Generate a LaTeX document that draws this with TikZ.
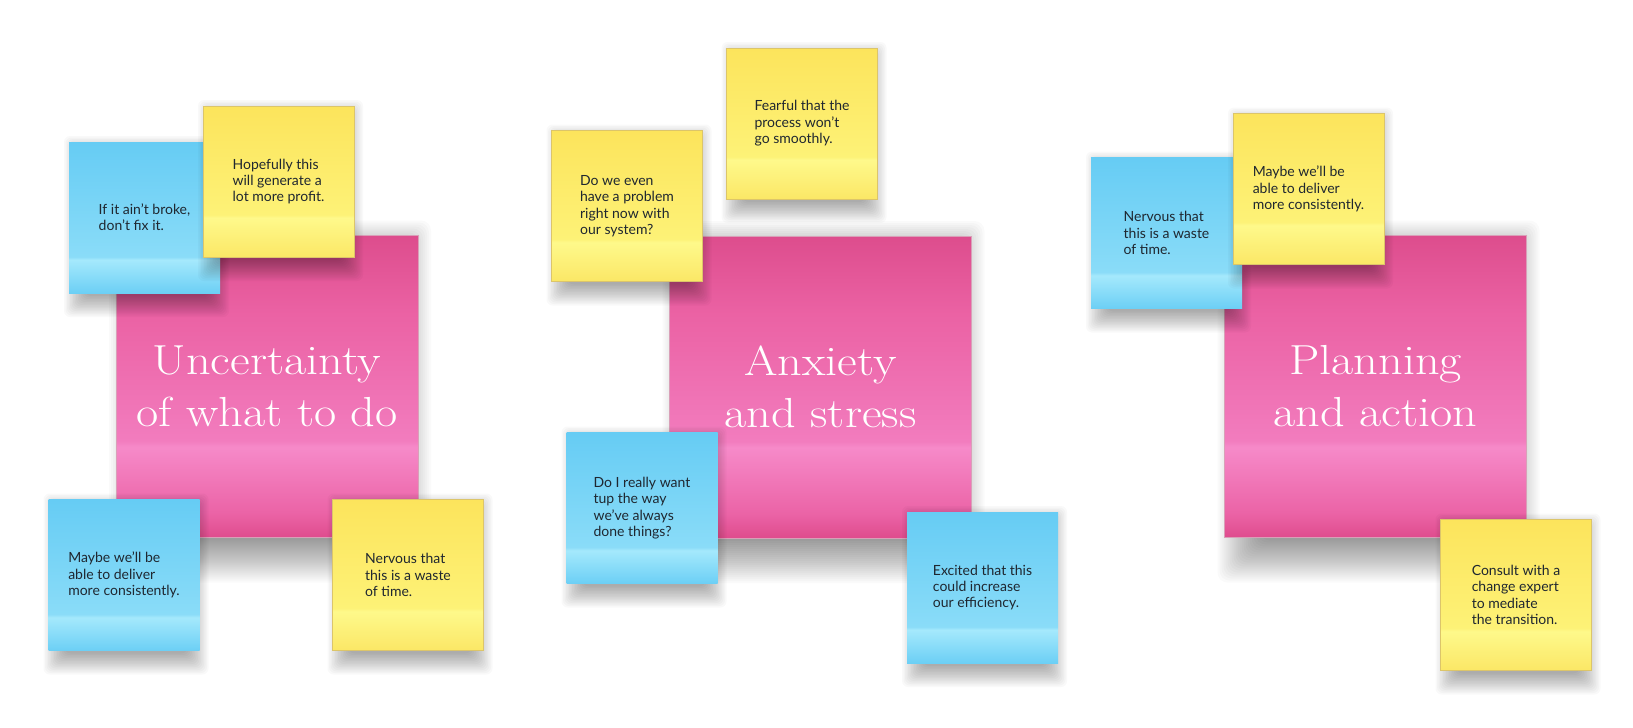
\documentclass[tikz,border=0pt]{standalone}
\usepackage{fontspec}
\newfontfamily\noteFont{Lato}
\newfontfamily\titleFont{lmroman17-regular}[Extension=.otf, FakeStretch=1.15]
\usepackage{tikz}

\definecolor{pinkEdge}{HTML}{DF4C8D}
\definecolor{pinkLow}{HTML}{EB63A6}
\definecolor{pinkLight}{HTML}{F68AC9}
\definecolor{pinkMid}{HTML}{F27CBE}
\definecolor{pinkHigh}{HTML}{EB62A4}
\definecolor{pinkTop}{HTML}{DD4D8D}
\definecolor{pinkRim}{HTML}{D9A0B8}
\definecolor{blueEdge}{HTML}{6CCFF5}
\definecolor{blueLight}{HTML}{A5E9FC}
\definecolor{blueMid}{HTML}{8ADCF8}
\definecolor{blueTop}{HTML}{66CCF4}
\definecolor{yellowEdge}{HTML}{FBE766}
\definecolor{yellowLight}{HTML}{FEF98B}
\definecolor{yellowMid}{HTML}{FDF277}
\definecolor{yellowTop}{HTML}{FCE45C}
\definecolor{yellowRim}{HTML}{DCC56A}
\definecolor{noteInk}{HTML}{1F2730}

\pgfdeclareverticalshading{pinkPaper}{100bp}{color(0bp)=(pinkEdge); color(25bp)=(pinkEdge);
  color(29bp)=(pinkLow); color(40bp)=(pinkLight); color(41bp)=(pinkMid);
  color(62bp)=(pinkHigh); color(75bp)=(pinkTop); color(100bp)=(pinkTop)}
\pgfdeclareverticalshading{bluePaper}{100bp}{color(0bp)=(blueEdge); color(25bp)=(blueEdge);
  color(36bp)=(blueLight); color(37bp)=(blueMid); color(75bp)=(blueTop); color(100bp)=(blueTop)}
\pgfdeclareverticalshading{yellowPaper}{100bp}{color(0bp)=(yellowEdge); color(25bp)=(yellowEdge);
  color(38bp)=(yellowLight); color(39bp)=(yellowMid); color(75bp)=(yellowTop); color(100bp)=(yellowTop)}

% soft shadows: stacked faint rectangles under a note centred at (#1,#2)
\newcommand{\smallShadow}[2]{%
  \foreach \r in {-6,-4.5,...,15}
    \fill[black, fill opacity=0.022, rounded corners=6pt]
      ({#1-67.5-\r+2},{#2-75.5-\r+9}) rectangle ({#1+67.5+\r+2},{#2+75.5+\r+9});}
\newcommand{\bigShadow}[2]{%
  \foreach \r in {-12,-10,...,30}
    \fill[black, fill opacity=0.02, rounded corners=10pt]
      ({#1-131-\r+3},{#2-151-\r+15}) rectangle ({#1+131+\r+3},{#2+151+\r+15});}

\tikzset{
  bigNote/.style={shade, shading=pinkPaper, draw=pinkRim, line width=0.4pt,
    minimum width=302pt, minimum height=302pt,
    inner sep=0pt, align=center, text=white, font=\titleFont\fontsize{42}{52}\selectfont},
  smallNote/.style={minimum width=151pt, minimum height=151pt, inner sep=0pt,
    align=left, text=noteInk, font=\noteFont\fontsize{14}{16.4}\selectfont},
  blueNote/.style={smallNote, shade, shading=bluePaper},
  yellowNote/.style={smallNote, shade, shading=yellowPaper, draw=yellowRim, line width=0.5pt}
}

\begin{document}
\begin{tikzpicture}[x=1pt,y=-1pt]
\useasboundingbox[fill=white] (0,0) rectangle (1633,728);

% uncertainty
\bigShadow{267}{386.5}
\node[bigNote] (uncertainty) at (267,386.5) {Uncertainty\\of what to do};
\smallShadow{144.5}{217.5}
\node[blueNote] (brokeNote) at (144.5,217.5) {If it ain’t broke,\\don’t fix it.};
\smallShadow{278.5}{181.5}
\node[yellowNote] (profitNote) at (278.5,181.5) {Hopefully this\\will generate a\\lot more profit.};
\smallShadow{124}{575}
\node[blueNote] (deliverNote) at (124,575) {Maybe we’ll be\\able to deliver\\more consistently.};
\smallShadow{408}{575}
\node[yellowNote] (wasteNote) at (408,575) {Nervous that\\this is a waste\\of time.};

% anxiety
\bigShadow{820.5}{387}
\node[bigNote] (anxiety) at (820.5,387) {Anxiety\\and stress};
\smallShadow{802}{123.5}
\node[yellowNote] (fearNote) at (802,123.5) {Fearful that the\\process won’t\\go smoothly.};
\smallShadow{627}{206}
\node[yellowNote] (problemNote) at (627,206) {Do we even\\have a problem\\right now with\\our system?};
\smallShadow{642}{508}
\node[blueNote] (wayNote) at (642,508) {Do I really want\\tup the way\\we’ve always\\done things?};
\smallShadow{982.5}{587.5}
\node[blueNote] (excitedNote) at (982.5,587.5) {Excited that this\\could increase\\our efficiency.};

% planning
\bigShadow{1375.5}{386.5}
\node[bigNote] (planning) at (1375.5,386.5) {Planning\\and action};
\smallShadow{1166.5}{233}
\node[blueNote] (timeNote) at (1166.5,233) {Nervous that\\this is a waste\\of time.};
\smallShadow{1308.5}{189}
\node[yellowNote] (consistentNote) at (1308.5,189) {Maybe we’ll be\\able to deliver\\more consistently.};
\smallShadow{1516}{595}
\node[yellowNote] (expertNote) at (1516,595) {Consult with a\\change expert\\to mediate\\the transition.};
\end{tikzpicture}
\end{document}
